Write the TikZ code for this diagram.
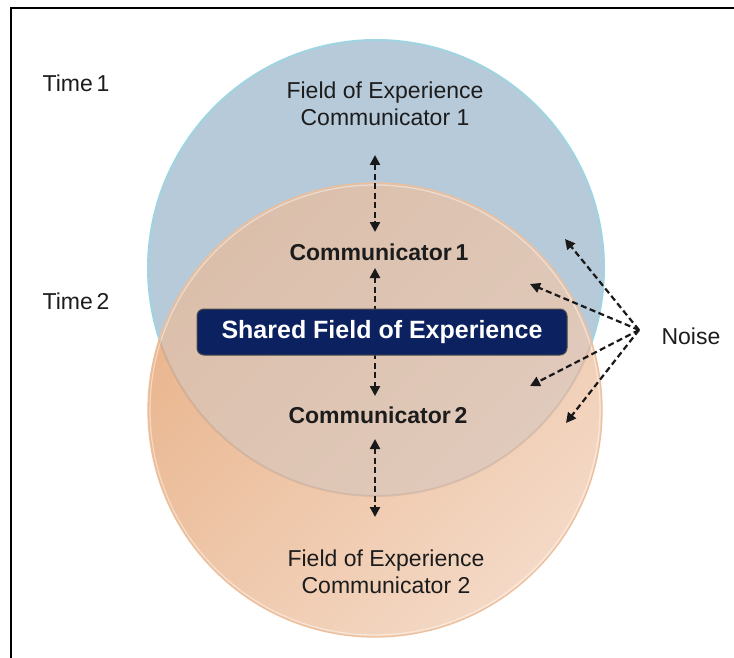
\documentclass[tikz,border=0pt]{standalone}
\usepackage{fontspec}
\setmainfont{Liberation Sans}
\usetikzlibrary{arrows.meta}
\definecolor{blueF}{HTML}{B6CADA}
\definecolor{blueE}{HTML}{9FD4E0}
\definecolor{orA}{HTML}{E9B48C}
\definecolor{orB}{HTML}{F4D9C6}
\definecolor{lensA}{HTML}{DBBFAB}
\definecolor{lensB}{HTML}{E2CDC0}
\definecolor{orE}{HTML}{EDBF9A}
\definecolor{navy}{HTML}{0C215F}
\definecolor{ink}{HTML}{1C1C1C}
\begin{document}
\begin{tikzpicture}[x=1pt,y=-1pt,
  txt/.style={font=\fontsize{23}{27}\selectfont, text=ink, align=center},
  comm/.style={font=\fontsize{23}{27}\selectfont\bfseries, text=ink},
  dline/.style={line width=2.2pt, dash pattern=on 6pt off 3.5pt, draw=black!90},
  dar/.style={dline, {Triangle[length=10pt,width=10pt]}-{Triangle[length=10pt,width=10pt]}},
  nar/.style={dline, -{Triangle[length=10pt,width=10pt]}}]
\useasboundingbox (0,0) rectangle (734,658);
% frame
\draw[line width=2pt] (11,670) -- (11,8) -- (745,8);
% circles
\fill[blueF] (376,268) circle[radius=228];
\draw[blueE, line width=2pt] (376,268) circle[radius=228];
\shade[shading=axis, top color=orA, bottom color=orB, shading angle=45] (375,410) circle[radius=227];
\begin{scope}
  \clip (376,268) circle[radius=228];
  \shade[shading=axis, top color=lensA, bottom color=lensB, shading angle=45] (375,410) circle[radius=227];
\end{scope}
\draw[white, opacity=0.45, line width=1.2pt] (375,410) circle[radius=225];
\draw[orE, line width=1.3pt] (375,410) circle[radius=227];
\begin{scope}
  \clip (375,410) circle[radius=226];
  \draw[black, opacity=0.07, line width=2pt] (376,268) circle[radius=228];
\end{scope}
% texts
\node[txt] (t1) at (76,83) {Time\,1};
\node[txt] (t2) at (76,301) {Time\,2};
\node[txt] (f1) at (385,104) {Field of Experience\\Communicator 1};
\node[comm] (c1) at (379,252) {Communicator\,1};
\node[comm] (c2) at (378,415) {Communicator\,2};
\node[txt] (f2) at (386,572) {Field of Experience\\Communicator 2};
\node[txt] (noise) at (691,336) {Noise};
% coordinates
\coordinate (a1t) at (375,155);
\coordinate (a1b) at (375,232);
\coordinate (a2t) at (375,268);
\coordinate (a2b) at (375,396);
\coordinate (a3t) at (375,439);
\coordinate (a3b) at (375,517);
\coordinate (np) at (639,330);
\coordinate (n1) at (565,239);
\coordinate (n2) at (530,284);
\coordinate (n3) at (530,386);
\coordinate (n4) at (566,423);
% arrows
\draw[dar] (a1t) -- (a1b);
\draw[dar] (a2t) -- (a2b);
\draw[dar] (a3t) -- (a3b);
\draw[nar] (np) -- (n1);
\draw[nar] (np) -- (n2);
\draw[nar] (np) -- (n3);
\draw[nar] (np) -- (n4);
% shared box
\node[minimum width=370pt, minimum height=46pt, rounded corners=7pt, fill=navy, draw=black!70, line width=1pt,
  text=white, font=\fontsize{25}{30}\selectfont\bfseries] (sh) at (382,332) {Shared Field of Experience};
\end{tikzpicture}
\end{document}
